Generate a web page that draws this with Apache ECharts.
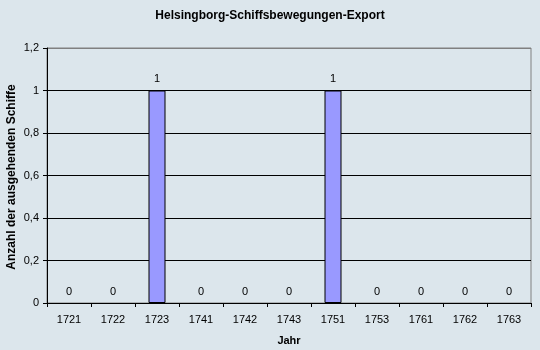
<!DOCTYPE html>
<html><head><meta charset="utf-8">
<script src="https://cdn.jsdelivr.net/npm/echarts@6/dist/echarts.min.js"></script>
<style>html,body{margin:0;padding:0;background:#dce6ec;}#c{width:540px;height:350px;}</style>
</head><body><div id="c"></div>
<script>
const categories = ['1721','1722','1723','1741','1742','1743','1751','1753','1761','1762','1763'];
const values = [0,0,1,0,0,0,1,0,0,0,0];
const yName = 'Anzahl der ausgehenden Schiffe';
const chart = echarts.init(document.getElementById('c'));
const F = 'Liberation Sans, Arial, sans-serif';
chart.setOption({
  backgroundColor: '#dce6ec',
  animation: false,
  title: {text: 'Helsingborg-Schiffsbewegungen-Export', left: 'center', top: 5,
    textStyle: {fontFamily: F, fontSize: 12, fontWeight: 'bold', color: '#000'}},
  grid: {left: 47, right: 9, top: 48, bottom: 47, outerBoundsMode: 'none', containLabel: false,
    show: true, borderColor: '#808080', borderWidth: 1, backgroundColor: 'transparent'},
  graphic: [{type: 'text', x: 12, y: 177, rotation: Math.PI / 2,
    style: {text: yName, fontFamily: F, fontSize: 12, fontWeight: 'bold', fill: '#000', align: 'center', verticalAlign: 'middle'}}],
  xAxis: {type: 'category', data: categories, name: 'Jahr', nameLocation: 'middle', nameGap: 32,
    nameTextStyle: {fontFamily: F, fontSize: 11, fontWeight: 'bold', color: '#000'},
    axisLine: {lineStyle: {color: '#000', width: 1}},
    axisTick: {show: true, length: 4, lineStyle: {color: '#000'}},
    axisLabel: {fontFamily: F, fontSize: 11, color: '#000', margin: 11}},
  yAxis: {type: 'value', min: 0, max: 1.2, interval: 0.2,
    axisLine: {show: true, lineStyle: {color: '#000', width: 1}},
    axisTick: {show: true, length: 4, lineStyle: {color: '#000'}},
    axisLabel: {fontFamily: F, fontSize: 11, color: '#000', margin: 8,
      formatter: v => String(Math.round(v*10)/10).replace('.', ',')},
    splitLine: {show: true, lineStyle: {color: ['#000','#000','#000','#000','#000','#000','#808080'], width: 1}}},
  series: [{type: 'bar', barWidth: 17,
    data: values.map(v => ({value: v, itemStyle: v === 0 ? {borderWidth: 0} : {}})),
    itemStyle: {color: '#9999ff', borderColor: '#000', borderWidth: 1},
    label: {show: true, position: 'top', distance: 6, fontFamily: F, fontSize: 11, color: '#000'}}]
});
</script></body></html>
